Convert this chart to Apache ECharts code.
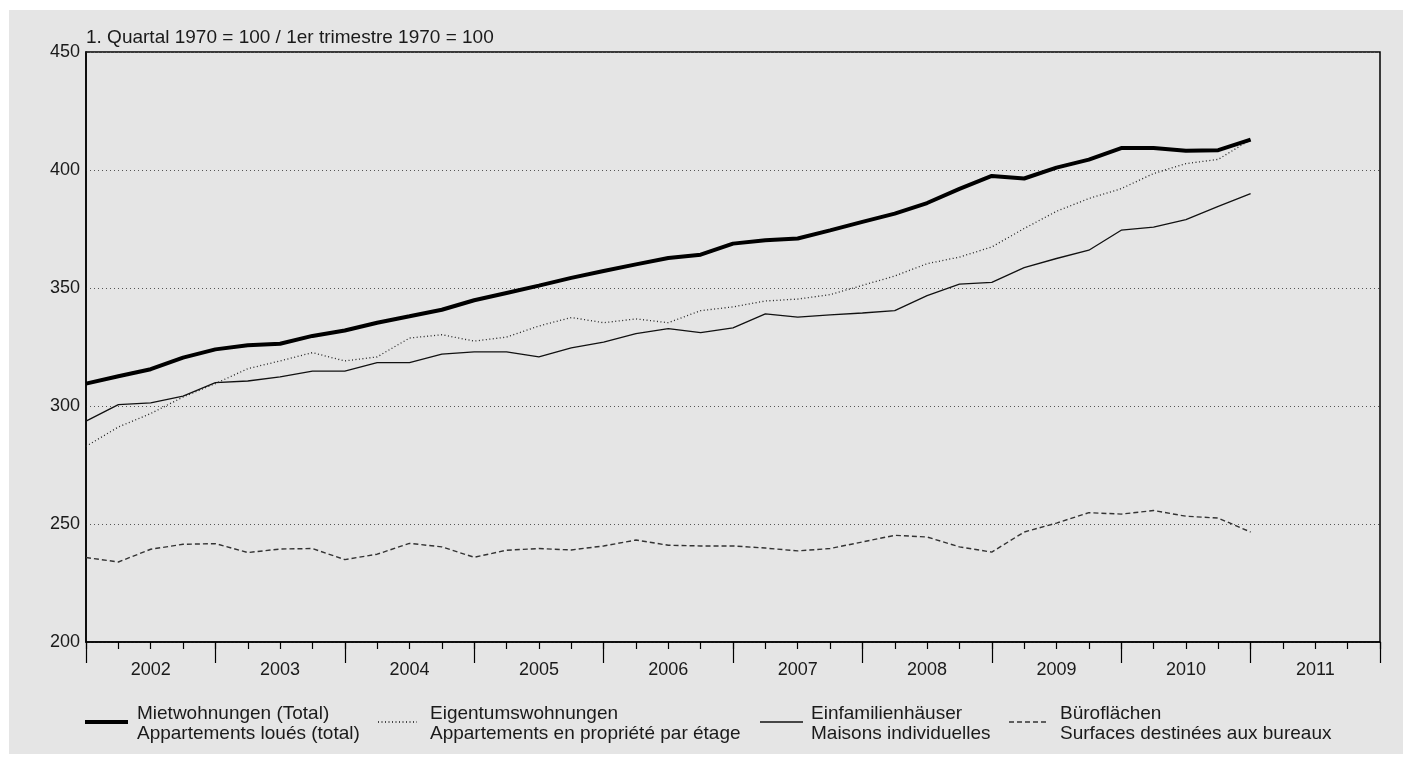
<!DOCTYPE html>
<html>
<head>
<meta charset="utf-8">
<script src="https://cdn.jsdelivr.net/npm/echarts@6/dist/echarts.min.js"></script>
<style>
html,body{margin:0;padding:0;background:#fff;}
#bg{position:absolute;left:9px;top:10px;width:1394px;height:744px;background:#e5e5e5;}
#chart{position:absolute;left:0;top:0;width:1412px;height:763px;}
</style>
</head>
<body>
<div id="bg"></div>
<div id="chart"></div>
<script>
// Quarters 2002 Q1 .. 2011 Q1 (index 0..36)
const years = ['2002','2003','2004','2005','2006','2007','2008','2009','2010','2011'];
const legendDe = ['Mietwohnungen (Total)','Eigentumswohnungen','Einfamilienhäuser','Büroflächen'];
const legendFr = ['Appartements loués (total)','Appartements en propriété par étage','Maisons individuelles','Surfaces destinées aux bureaux'];
const mietwohnungen = [309.5,312.6,315.6,320.5,324.0,325.7,326.4,329.7,332.0,335.3,338.0,340.8,344.8,347.9,351.0,354.3,357.2,360.0,362.7,364.1,368.8,370.2,371.0,374.4,378.0,381.5,386.0,392.0,397.5,396.4,401.0,404.4,409.3,409.3,408.2,408.4,412.9];
const eigentum = [282.9,291.1,296.8,303.8,309.5,315.8,319.1,322.6,319.1,320.8,328.8,330.2,327.5,329.2,333.9,337.5,335.3,336.9,335.3,340.4,342.0,344.5,345.3,347.2,351.1,355.1,360.3,363.1,367.4,375.2,382.5,387.9,392.1,398.5,402.7,404.5,412.9];
const einfamilien = [293.6,300.6,301.3,304.2,309.9,310.6,312.3,314.8,314.8,318.4,318.4,322.0,322.9,322.9,320.8,324.6,327.1,330.7,332.8,331.1,333.1,339.0,337.7,338.6,339.4,340.4,346.8,351.6,352.4,358.6,362.5,366.0,374.5,375.8,379.0,384.6,390.0];
const buero = [235.8,233.9,239.3,241.4,241.7,237.9,239.4,239.6,234.9,237.2,241.8,240.3,235.9,238.9,239.6,239.0,240.7,243.2,241.0,240.7,240.7,239.8,238.6,239.6,242.4,245.2,244.5,240.3,238.1,246.6,250.4,254.8,254.2,255.7,253.3,252.5,246.6];
const yTicks = [200,250,300,350,400,450];
const unitTitle = '1. Quartal 1970 = 100 / 1er trimestre 1970 = 100';

const FONT = '"Liberation Sans", Arial, sans-serif';
const TXT = '#1a1a1a';
const toXY = arr => arr.map((v,i)=>[i,v]);

const styles = [
  {stroke:'#000', lineWidth:4},
  {stroke:'#111', lineWidth:1.3, lineDash:[1,2.5]},
  {stroke:'#111', lineWidth:1.3},
  {stroke:'#333', lineWidth:1.4, lineDash:[5,3]}
];
const legX = [[85,128,137],[378,417,430],[760,803,811],[1009,1049,1060]];
const graphics = [];
legendDe.forEach((de,k)=>{
  const [x1,x2,tx] = legX[k];
  graphics.push({type:'line', shape:{x1:x1,y1:722,x2:x2,y2:722}, style:Object.assign({fill:null}, styles[k]), silent:true});
  graphics.push({type:'text', x:tx, y:714, style:{text:de, font:'19px '+FONT, fill:TXT, textVerticalAlign:'middle', verticalAlign:'middle'}, silent:true});
  graphics.push({type:'text', x:tx, y:734, style:{text:legendFr[k], font:'19px '+FONT, fill:TXT, textVerticalAlign:'middle', verticalAlign:'middle'}, silent:true});
});

const chart = echarts.init(document.getElementById('chart'));
const option = {
  animation:false,
  backgroundColor:'transparent',
  textStyle:{fontFamily:FONT},
  title:{
    text:unitTitle, left:81, top:23,
    textStyle:{fontFamily:FONT,fontSize:19,fontWeight:'normal',color:TXT}
  },
  grid:{left:86, right:32, top:52, bottom:121, show:true, borderColor:'#000', borderWidth:1.5, backgroundColor:'transparent'},
  xAxis:[
    {type:'value', min:0, max:40, interval:1, position:'bottom',
     axisLine:{show:true, lineStyle:{color:'#000', width:1.5}},
     axisTick:{show:true, length:7, inside:false, lineStyle:{color:'#000', width:1.2}},
     axisLabel:{show:false}, splitLine:{show:false}},
    {type:'category', data:years, boundaryGap:true, position:'bottom',
     axisLine:{show:false},
     axisTick:{show:true, length:21, interval:0, lineStyle:{color:'#000', width:1.2}},
     axisLabel:{show:true, interval:0, margin:19, fontFamily:FONT, fontSize:18, color:TXT},
     splitLine:{show:false}}
  ],
  yAxis:{type:'value', min:yTicks[0], max:yTicks[yTicks.length-1], interval:50,
    axisLine:{show:true, lineStyle:{color:'#000', width:1.5}},
    axisTick:{show:false},
    axisLabel:{margin:6, fontFamily:FONT, fontSize:18, color:TXT},
    splitLine:{show:true, lineStyle:{color:'#555', width:1, type:[1,3]}}},
  graphic: graphics,
  series:[
    {name:legendDe[3], type:'line', data:toXY(buero), symbol:'none', z:2,
     lineStyle:{color:'#333', width:1.4, type:[5,3]}},
    {name:legendDe[2], type:'line', data:toXY(einfamilien), symbol:'none', z:3,
     lineStyle:{color:'#111', width:1.3}},
    {name:legendDe[1], type:'line', data:toXY(eigentum), symbol:'none', z:4,
     lineStyle:{color:'#222', width:1.3, type:[1,2.5]}},
    {name:legendDe[0], type:'line', data:toXY(mietwohnungen), symbol:'none', z:5,
     lineStyle:{color:'#000', width:4}}
  ]
};
chart.setOption(option);
</script>
</body>
</html>
